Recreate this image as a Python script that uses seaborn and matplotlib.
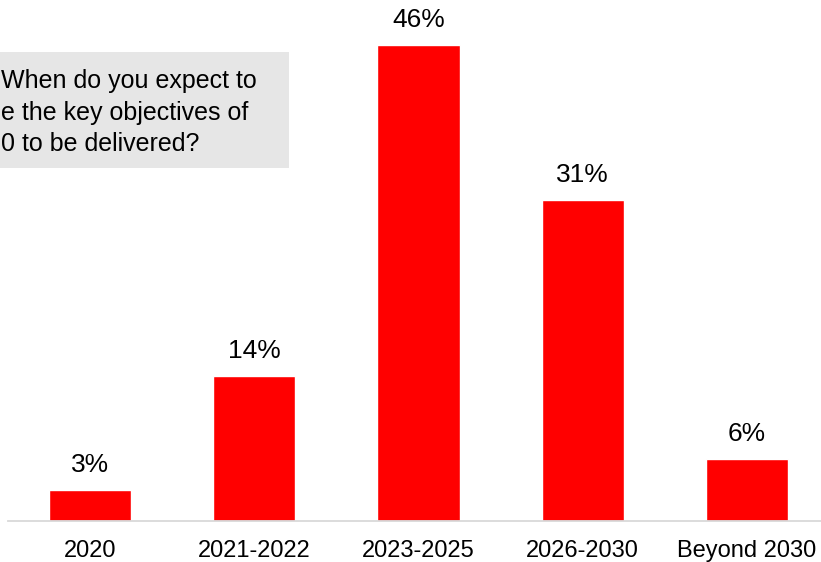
import matplotlib
matplotlib.use("Agg")
import matplotlib.pyplot as plt
import seaborn as sns
from matplotlib.patches import Rectangle

periods = ["2020", "2021-2022", "2023-2025", "2026-2030", "Beyond 2030"]
shares = [3, 14, 46, 31, 6]
question_lines = ["When do you expect to", "e the key objectives of", "0 to be delivered?"]

sns.set_theme(style="white")
plt.rcParams["font.family"] = ["Liberation Sans", "DejaVu Sans"]

W, H, DPI = 821, 562, 100
fig = plt.figure(figsize=(W / DPI, H / DPI), dpi=DPI)
fig.patch.set_facecolor("white")

# axes placed in pixel terms: baseline at y=521 from top, about 10.35 px per percent
ax = fig.add_axes([8 / W, 41 / H, 821 / W, 517 / H])
ax.set_facecolor("none")

sns.barplot(x=periods, y=shares, color="#ff0000", saturation=1, width=0.5, ax=ax)
ax.set_xlim(-0.5, 4.5)
ax.set_ylim(0, 50)

for i, v in enumerate(shares):
    ax.annotate(f"{v}%", (i, v), xytext=(0, 13), textcoords="offset points",
                ha="center", va="baseline", fontsize=19, color="#000000",
                annotation_clip=False)

for s in ["top", "right", "left"]:
    ax.spines[s].set_visible(False)
ax.spines["bottom"].set_color("#d9d9d9")
ax.spines["bottom"].set_linewidth(1.3)
ax.set_yticks([])
ax.set_xlabel("")
ax.set_ylabel("")
ax.tick_params(axis="x", length=0, pad=14, labelsize=17, labelcolor="#000000")

# question box in the upper left
fig.patches.append(Rectangle((0, 1 - 168 / H), 289 / W, 116 / H,
                             transform=fig.transFigure, facecolor="#e6e6e6",
                             edgecolor="none", zorder=0))
for k, line in enumerate(question_lines):
    fig.text(1 / W, 1 - (88 + 31.5 * k) / H, line, fontsize=18, color="#000000",
             ha="left", va="baseline")

fig.savefig("out.png", dpi=DPI, facecolor="white")
